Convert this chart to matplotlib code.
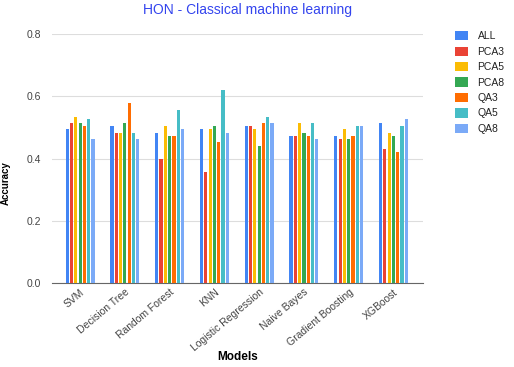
import matplotlib
matplotlib.use("Agg")
import matplotlib.pyplot as plt
import numpy as np

plt.rcParams["font.family"] = ["Liberation Sans", "DejaVu Sans"]

models = ["SVM", "Decision Tree", "Random Forest", "KNN", "Logistic Regression",
          "Naive Bayes", "Gradient Boosting", "XGBoost"]
series = ["ALL", "PCA3", "PCA5", "PCA8", "QA3", "QA5", "QA8"]
colors = ["#4285F4", "#EA4335", "#FBBC04", "#34A853", "#FF6D01", "#46BDC6", "#7BAAF7"]

acc_all = [0.494, 0.504, 0.483, 0.494, 0.504, 0.472, 0.472, 0.515]
acc_pca3 = [0.515, 0.483, 0.399, 0.357, 0.504, 0.472, 0.463, 0.430]
acc_pca5 = [0.535, 0.483, 0.504, 0.494, 0.494, 0.515, 0.494, 0.483]
acc_pca8 = [0.515, 0.515, 0.472, 0.504, 0.440, 0.483, 0.463, 0.472]
acc_qa3 = [0.504, 0.578, 0.472, 0.452, 0.515, 0.472, 0.472, 0.420]
acc_qa5 = [0.526, 0.483, 0.556, 0.620, 0.535, 0.515, 0.504, 0.504]
acc_qa8 = [0.463, 0.463, 0.494, 0.483, 0.515, 0.463, 0.504, 0.526]
values = [acc_all, acc_pca3, acc_pca5, acc_pca8, acc_qa3, acc_qa5, acc_qa8]

fig = plt.figure(figsize=(5.14, 3.67), dpi=100)
ax = fig.add_axes([0.101, 0.229, 0.722, 0.678])

x = np.arange(len(models))
slot = 0.096
for i, (name, vals, c) in enumerate(zip(series, values, colors)):
    ax.bar(x + (i - 3) * slot, vals, width=0.072, color=c, label=name, zorder=3)

ax.set_ylim(0, 0.8)
ax.set_xlim(-0.63, 7.66)
ax.set_yticks([0.0, 0.2, 0.4, 0.6, 0.8])
ax.set_yticklabels(["0.0", "0.2", "0.4", "0.6", "0.8"])
ax.grid(axis="y", color="#dddddd", lw=0.8, zorder=0)
for s in ["top", "right", "left"]:
    ax.spines[s].set_visible(False)
ax.spines["bottom"].set_color("#666666")
ax.tick_params(axis="y", length=0, labelsize=7.5, labelcolor="#444444", pad=8)
ax.tick_params(axis="x", length=0, labelsize=7.5, labelcolor="#444444", pad=3)
ax.set_xticks(x)
ax.set_xticklabels(models, rotation=40, ha="right", rotation_mode="anchor")

fig.text(0.481, 0.972, "HON - Classical machine learning", color="#3344ee",
         fontsize=10, ha="center", va="center")
fig.text(0.462, 0.027, "Models", fontsize=8.5, fontweight="bold", ha="center", va="center")
fig.text(0.012, 0.50, "Accuracy", fontsize=7, fontweight="bold", rotation=90,
         ha="center", va="center")

ax.legend(loc="upper left", bbox_to_anchor=(1.06, 1.05), frameon=False, fontsize=7.5,
          handlelength=1.3, handleheight=1.0, labelspacing=0.5, handletextpad=0.9,
          labelcolor="#222222")

fig.savefig("out.png", dpi=100)
